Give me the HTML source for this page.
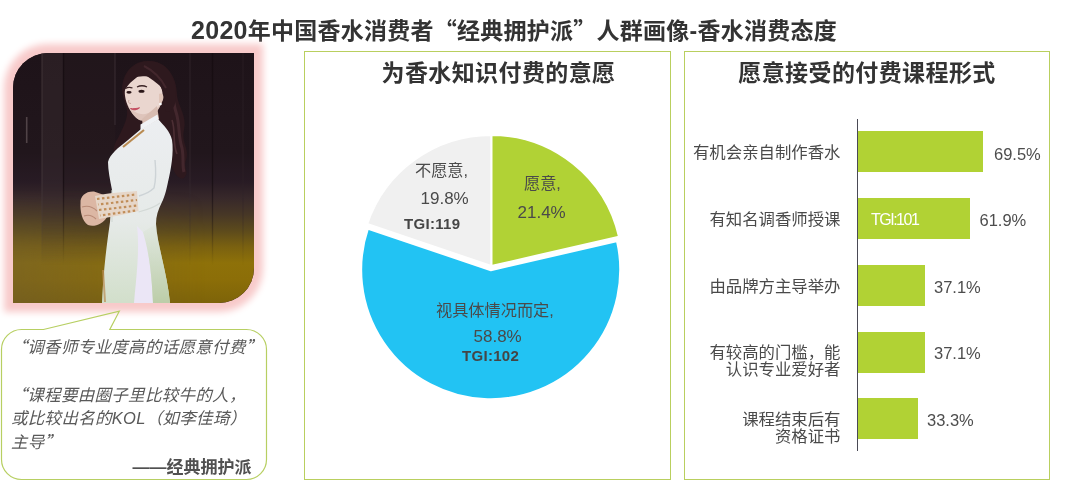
<!DOCTYPE html>
<html lang="zh-CN">
<head>
<meta charset="utf-8">
<title>2020年中国香水消费者“经典拥护派”人群画像-香水消费态度</title>
<style>
html,body{margin:0;padding:0;background:#fff;}
body{width:1072px;height:497px;position:relative;overflow:hidden;
  font-family:"Liberation Sans","Noto Sans CJK SC",sans-serif;color:#404040;}
.abs{position:absolute;}
.q{font-family:"Noto Sans CJK SC",sans-serif;}
#title{left:0;top:13px;width:1028px;text-align:center;font-size:23px;font-weight:bold;
  line-height:32px;color:#333;white-space:nowrap;letter-spacing:0.25px;}
.panel{border:1px solid #b9cf5e;box-sizing:border-box;background:#fff;}
#p1{left:304px;top:50.5px;width:366.7px;height:429.5px;}
#p2{left:683.5px;top:50.5px;width:366px;height:429.5px;}
.ptitle{letter-spacing:0.4px;font-size:23px;font-weight:bold;line-height:30px;color:#333;text-align:center;white-space:nowrap;}
#pt1{left:314px;top:58px;width:369px;}
#pt2{left:684px;top:58px;width:366px;}
.bar{background:#b1d234;height:41px;left:858px;}
.axis{left:856.8px;top:118.8px;width:1px;height:332.7px;background:#4a4a55;}
.lab{font-size:16.4px;line-height:17px;color:#4a4a4a;text-align:right;width:160px;left:680.5px;white-space:nowrap;}
.val{font-size:16.5px;line-height:20px;color:#4d4d4d;white-space:nowrap;}
.tgi{font-size:15px;font-weight:bold;line-height:18px;letter-spacing:0.3px;color:#454545;white-space:nowrap;}
.pl{font-size:16.2px;line-height:20px;color:#4a4a4a;white-space:nowrap;}
#photo{left:13px;top:53px;width:241px;height:250px;border-radius:35px 0 35px 0;
  box-shadow:0 0 7px 9px #f8caca;overflow:hidden;background:#1c1218;}
.bt{letter-spacing:0.3px;font-size:16.5px;line-height:23.5px;font-style:italic;color:#595959;white-space:nowrap;}
#sig{left:100.5px;top:455.5px;width:151px;text-align:right;font-size:17px;font-weight:bold;line-height:24px;color:#505050;white-space:nowrap;}
</style>
</head>
<body>
<div id="title" class="abs"><span style="font-size:25px">2020</span>年中国香水消费者<span class="q">“</span>经典拥护派<span class="q">”</span>人群画像-香水消费态度</div>

<!-- photo -->
<div id="photo" class="abs">
<svg width="241" height="250" viewBox="13 53 241 250" preserveAspectRatio="none" style="display:block">
  <defs>
    <linearGradient id="bg" x1="0" y1="53" x2="0" y2="302" gradientUnits="userSpaceOnUse">
      <stop offset="0" stop-color="#1e1319"/>
      <stop offset="0.4" stop-color="#21161c"/>
      <stop offset="0.518" stop-color="#281b24"/>
      <stop offset="0.582" stop-color="#37282a"/>
      <stop offset="0.649" stop-color="#473726"/>
      <stop offset="0.713" stop-color="#5c4a1c"/>
      <stop offset="0.778" stop-color="#7a6110"/>
      <stop offset="0.843" stop-color="#8e7109"/>
      <stop offset="0.908" stop-color="#8c6e08"/>
      <stop offset="1" stop-color="#7e6409"/>
    </linearGradient>
    <linearGradient id="dress" x1="0" y1="120" x2="0" y2="302" gradientUnits="userSpaceOnUse">
      <stop offset="0" stop-color="#eceef1"/>
      <stop offset="0.55" stop-color="#e6eae8"/>
      <stop offset="1" stop-color="#d2dfcb"/>
    </linearGradient>
    <linearGradient id="bp" x1="0" y1="224" x2="0" y2="303" gradientUnits="userSpaceOnUse">
      <stop offset="0" stop-color="#d6dfd0" stop-opacity="0.2"/>
      <stop offset="0.5" stop-color="#cbd8c0" stop-opacity="0.8"/>
      <stop offset="1" stop-color="#bccda8" stop-opacity="1"/>
    </linearGradient>
    <linearGradient id="pmg" x1="0" y1="53" x2="0" y2="303" gradientUnits="userSpaceOnUse">
      <stop offset="0" stop-color="#fff"/>
      <stop offset="0.5" stop-color="#fff"/>
      <stop offset="0.85" stop-color="#000"/>
    </linearGradient>
    <mask id="pm" maskUnits="userSpaceOnUse" x="13" y="53" width="241" height="250"><rect x="13" y="53" width="241" height="250" fill="url(#pmg)"/></mask>
    <linearGradient id="lft" x1="13" y1="0" x2="254" y2="0" gradientUnits="userSpaceOnUse">
      <stop offset="0" stop-color="#6b5a38" stop-opacity="0.45"/>
      <stop offset="0.45" stop-color="#6b5a38" stop-opacity="0.2"/>
      <stop offset="0.8" stop-color="#6b5a38" stop-opacity="0"/>
    </linearGradient>
    <linearGradient id="vmg" x1="0" y1="190" x2="0" y2="302" gradientUnits="userSpaceOnUse">
      <stop offset="0" stop-color="#000"/>
      <stop offset="0.6" stop-color="#fff"/>
      <stop offset="1" stop-color="#fff"/>
    </linearGradient>
    <mask id="vm" maskUnits="userSpaceOnUse" x="13" y="190" width="241" height="113"><rect x="13" y="190" width="241" height="113" fill="url(#vmg)"/></mask>
    <linearGradient id="yel" x1="0" y1="53" x2="0" y2="302" gradientUnits="userSpaceOnUse">
      <stop offset="0.5" stop-color="#8f7512" stop-opacity="0"/>
      <stop offset="0.8" stop-color="#8f7512" stop-opacity="0.25"/>
      <stop offset="1" stop-color="#8f7512" stop-opacity="0.35"/>
    </linearGradient>
  </defs>
  <rect x="13" y="53" width="241" height="250" fill="url(#bg)"/>
  <rect x="13" y="190" width="241" height="113" fill="url(#lft)" mask="url(#vm)"/>
  <!-- wall planks -->
  <g mask="url(#pm)">
  <rect x="42" y="53" width="21.5" height="230" fill="#3a2d30" opacity="0.45"/>
  <rect x="63.5" y="53" width="52" height="230" fill="#2a1e22" opacity="0.3"/>
  <g stroke-width="1.3" fill="none">
    <line x1="42" y1="53" x2="42" y2="290" stroke="#4a3c40" opacity="0.6"/>
    <line x1="63.5" y1="53" x2="63.5" y2="290" stroke="#120a0e" opacity="0.7"/>
    <line x1="115" y1="53" x2="115" y2="125" stroke="#43353b" opacity="0.6"/>
    <line x1="190" y1="53" x2="190" y2="290" stroke="#3a2c33" opacity="0.5"/>
    <line x1="212.5" y1="53" x2="212.5" y2="290" stroke="#140c10" opacity="0.7"/>
    <line x1="243" y1="53" x2="243" y2="290" stroke="#30242a" opacity="0.5"/>
    <line x1="26.7" y1="117" x2="26.7" y2="143" stroke="#5c4f52" stroke-width="1.6" opacity="0.8"/>
  </g>
  </g>
  <!-- hair back -->
  <path d="M123 96 C119 76 132 60 149 61 C166 61 177 76 177 96 C179 108 187 116 184 130 C181 142 190 150 186 160 C183 168 190 172 184 178 C178 181 172 170 170 160 C168 150 160 136 150 130 C148 128 146 127 145 126 C138 128 130 140 122 152 C114 160 110 150 118 138 C124 126 128 118 127 110 Z" fill="#2e191e"/>
  <path d="M166 74 C174 86 172 100 176 112 C180 124 178 136 182 148 C184 158 182 166 184 172" stroke="#55333a" stroke-width="3" fill="none" opacity="0.55"/>
  <path d="M172 120 C176 132 172 142 177 154" stroke="#6a444a" stroke-width="1.6" fill="none" opacity="0.5"/>
  <!-- dress torso -->
  <path d="M141 129 L158 119 C164 126 170 131 172 140 C174 152 171 170 168 182 C166 192 164 198 162 202 C158 210 156 216 156 224 C157 244 167 272 170 303 L102 303 C103 280 105 256 110 222 L112 190 C110 180 108 170 108 162 C110 154 118 148 128 140 Z" fill="url(#dress)"/>
  <!-- slit satin -->
  <path d="M137 226 C140 250 136 280 134 303 L153 303 C152 280 150 255 143 232 Z" fill="#ebe6f6"/>
  <!-- neckline trim -->
  <path d="M144 130 L123 147" stroke="#b98b52" stroke-width="2.2" fill="none"/>
  <!-- arm shading -->
  <path d="M139 196 C146 194 151 191 154 188 C156 180 156 170 155 160" stroke="#cdd3d6" stroke-width="1.4" fill="none"/>
  <path d="M138.5 212 C146 210 154 208 160 203" stroke="#d3d9d6" stroke-width="1.2" fill="none"/>
  <path d="M112 190 L112 222" stroke="#cfd6d2" stroke-width="1" fill="none"/>
  <!-- hands -->
  <path d="M80.5 203 C80 196 86 191 94 191.5 L104 195 L107 217 C103 224 94 227.5 88 225 C82 221 80 211 80.5 203 Z" fill="#dcb7a4"/>
  <path d="M82 207 C88 205 93 207 97 211 M84 216 C89 214 93 216 96 219" stroke="#b98c78" stroke-width="1.1" fill="none"/>
  <!-- cuff embroidery -->
  <path d="M95 196 C108 193 124 192 137 191 L138.5 211 C126 214 112 217 99 219 Z" fill="#e6d6c8"/>
  <g stroke="#c08d58" stroke-width="2.2" fill="none" stroke-dasharray="2.5 2.5">
    <path d="M97 199 L136 194.5"/><path d="M98 204.5 L137 200" stroke-dashoffset="2"/>
    <path d="M99 210 L137.5 205.5"/><path d="M100 215.5 L136 210.5" stroke-dashoffset="2"/>
  </g>
  <!-- back panel shade -->
  <path d="M143 232 C150 255 152 280 153 303 L170 303 C167 272 157 244 156 224 Z" fill="url(#bp)"/>
  <!-- lower hem embroidery -->
  <path d="M103 270 L105 302" stroke="#b98b52" stroke-width="2" fill="none" opacity="0.7"/>
  <!-- face -->
  <path d="M126 84 C131 75 150 73 158 82 C163 88 164 98 161 104 C158 112 150 120 142 120.5 C137 120.5 131 113 127.5 105 C124.5 98 124 90 126 84 Z" fill="#ead6cf"/>
  <path d="M127.5 105 C131 113 137 120.5 142 120.5 C150 120 158 112 161 104 C156 110 148 115 141 114 C135 113 130 109 127.5 105 Z" fill="#d9bcb2" opacity="0.7"/>
  <!-- neck -->
  <path d="M142 119 L157 106 L159 119 L143 128 Z" fill="#d8bcb1"/>
  <path d="M140.5 130 L158.5 119.5 L157.5 114.5 L140.5 124.5 Z" fill="#f0f2f5"/>
  <!-- ear -->
  <path d="M159 94 C163 92 165 97 162 102 C161 104 159 104 159 102 Z" fill="#e0c4b8"/>
  <circle cx="160.5" cy="104" r="1.3" fill="#ffffff"/>
  <!-- hair front -->
  <path d="M123.5 93 C121 74 134 61 149 61 C166 61 176 76 176 96 C176 106 172 112 166 112 C163 104 167 95 160 86 C154 80 148 78 143 72 C137 78 128 82 123.5 93 Z" fill="#2e191e"/>
  <path d="M144 66 C152 70 160 76 166 88" stroke="#55333a" stroke-width="2" fill="none" opacity="0.5"/>
  <!-- features -->
  <path d="M125.5 88.5 C128 87 130 87 132.5 88 M137 87 C140 85.5 144 85.5 147 87" stroke="#3a2224" stroke-width="1.3" fill="none"/>
  <ellipse cx="129" cy="92.3" rx="2.6" ry="1.4" fill="#2a1618"/>
  <ellipse cx="141.5" cy="91.2" rx="3" ry="1.5" fill="#2a1618"/>
  <path d="M129 100 C128 102 128.5 103.5 131 103.5" stroke="#c9a79c" stroke-width="1" fill="none"/>
  <path d="M130.5 108.5 C133 110.5 137 110.2 139.5 107.8 C137 108.5 133 109 130.5 108.5 Z" fill="#c2475b" stroke="#c2475b" stroke-width="0.9"/>
</svg>
</div>

<!-- speech bubble -->
<svg class="abs" style="left:0;top:300px" width="280" height="197" viewBox="0 300 280 197">
  <path d="M21.5 329.5 H43.5 L119.3 311.2 L109.8 329.5 H246.5 A20 20 0 0 1 266.5 349.5 V459.5 A20 20 0 0 1 246.5 479.5 H21.5 A20 20 0 0 1 1.5 459.5 V349.5 A20 20 0 0 1 21.5 329.5 Z" fill="none" stroke="#b7cf62" stroke-width="1.2"/>
</svg>
<div class="abs bt" id="b1" style="left:10.5px;top:334.7px;"><span class="q">“</span>调香师专业度高的话愿意付费<span class="q">”</span></div>
<div class="abs bt" id="b3" style="left:10.5px;top:382.7px;"><span class="q">“</span>课程要由圈子里比较牛的人，</div>
<div class="abs bt" id="b4" style="left:11px;top:407px;">或比较出名的KOL（如李佳琦）</div>
<div class="abs bt" id="b5" style="left:11px;top:429.5px;">主导<span class="q">”</span></div>
<div id="sig" class="abs">——经典拥护派</div>

<!-- pie panel -->
<div id="p1" class="abs panel"></div>
<div id="pt1" class="abs ptitle">为香水知识付费的意愿</div>
<svg class="abs" style="left:304px;top:51px" width="367" height="429" viewBox="304 51 367 429">
  <g stroke="#fff" stroke-linejoin="miter">
    <path d="M491.30 266.00 L491.30 135.00 A131 131 0 0 1 618.96 236.62 Z" fill="#b1d235" stroke-width="2"/>
    <path d="M491.30 266.00 L367.23 223.96 A131 131 0 0 1 491.30 135.00 Z" fill="#f0f0f0" stroke-width="2"/>
    <path d="M490.70 269.70 L617.39 240.54 A130 130 0 1 1 367.58 227.98 Z" fill="#22c3f3" stroke-width="3"/>
  </g>
</svg>
<div class="abs pl" style="left:415px;top:160px;">不愿意,</div>
<div class="abs pl" style="font-size:17px;left:420.5px;top:189px;">19.8%</div>
<div class="abs tgi" style="left:404px;top:215px;">TGI:119</div>
<div class="abs pl" style="left:524px;top:173px;">愿意,</div>
<div class="abs pl" style="font-size:17px;left:517.5px;top:202.8px;">21.4%</div>
<div class="abs pl" style="left:436px;top:300px;">视具体情况而定,</div>
<div class="abs pl" style="font-size:17px;left:473.5px;top:326.8px;">58.8%</div>
<div class="abs tgi" style="left:462px;top:347px;">TGI:102</div>

<!-- bar panel -->
<div id="p2" class="abs panel"></div>
<div id="pt2" class="abs ptitle">愿意接受的付费课程形式</div>
<div class="abs bar" style="top:131.4px;width:125.3px;"></div>
<div class="abs bar" style="top:198.1px;width:111.5px;"></div>
<div class="abs bar" style="top:265px;width:66.8px;"></div>
<div class="abs bar" style="top:331.7px;width:66.8px;"></div>
<div class="abs bar" style="top:398.4px;width:59.8px;"></div>
<div class="abs axis"></div>
<div class="abs lab" style="top:144px;">有机会亲自制作香水</div>
<div class="abs lab" style="top:211px;">有知名调香师授课</div>
<div class="abs lab" style="top:278px;">由品牌方主导举办</div>
<div class="abs lab" style="top:344.2px;">有较高的门槛，能<br>认识专业爱好者</div>
<div class="abs lab" style="top:410.6px;">课程结束后有<br>资格证书</div>
<div class="abs val" style="left:994px;top:144px;">69.5%</div>
<div class="abs val" style="left:979.5px;top:209.5px;">61.9%</div>
<div class="abs val" style="left:934px;top:276.5px;">37.1%</div>
<div class="abs val" style="left:934px;top:343px;">37.1%</div>
<div class="abs val" style="left:927px;top:410px;">33.3%</div>
<div class="abs" style="left:871px;top:210.5px;font-size:16px;line-height:18px;letter-spacing:-1.5px;color:#fff;white-space:nowrap;">TGI:101</div>

</body>
</html>
